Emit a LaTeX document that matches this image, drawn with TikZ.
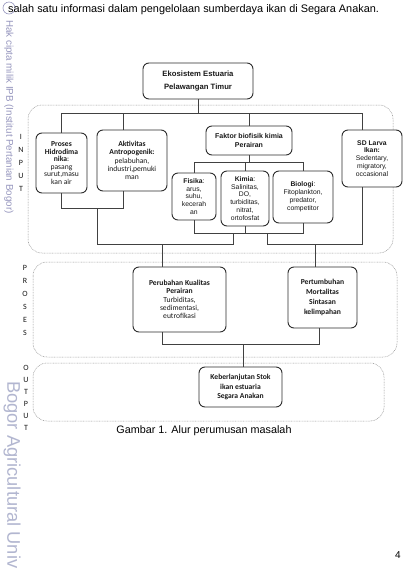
\documentclass[tikz,border=0pt]{standalone}
\usepackage{fontspec}
\setmainfont{Liberation Sans}
\newfontfamily\calib{Carlito}
\usetikzlibrary{calc}
\definecolor{wmA}{RGB}{150,150,190}
\definecolor{wmB}{RGB}{178,182,208}
\definecolor{edge}{RGB}{45,45,45}
\definecolor{wire}{RGB}{65,65,65}
\definecolor{framec}{RGB}{150,150,150}

\begin{document}
\begin{tikzpicture}[x=1pt,y=-1pt,
  box/.style={draw=edge,fill=white,line width=0.9pt,rounded corners=6pt,inner sep=0pt,align=center,text=black!90},
  cbox/.style={box,font=\calib\fontsize{7.6}{7.6}\selectfont},
  abox/.style={box,font=\fontsize{6.8}{7.9}\selectfont},
  conn/.style={draw=wire,line width=0.8pt},
  stage/.style={draw=framec,line width=0.5pt,dash pattern=on 0.8pt off 0.8pt,rounded corners=14pt},
  sidelbl/.style={font=\calib\fontsize{8}{9}\selectfont,inner sep=0pt,text=black!90}
]
\useasboundingbox (0,0) rectangle (404,574);
\fill[white] (0,0) rectangle (404,574);

% page watermarks
\begin{scope}
  \clip (0,0) rectangle (404,574);
  \node[text=wmA, rotate=-90, anchor=west, inner sep=0pt, font=\fontsize{9.8}{10}\selectfont] (wmtop) at (9,20) {Hak cipta milik IPB (Institut Pertanian Bogor)};
  \node[text=wmB, rotate=-90, anchor=west, inner sep=0pt, font=\fontsize{18.3}{19}\selectfont] (wmbot) at (12,381) {Bogor Agricultural Univ};
  \draw[wmA, line width=0.6pt] (9,8) circle (6);
\end{scope}

% running text and caption
\node[anchor=base west, inner sep=0pt, font=\fontsize{10.9}{13}\selectfont] (intro) at (8,12) {salah satu informasi dalam pengelolaan sumberdaya ikan di Segara Anakan.};
\node[anchor=base, inner sep=0pt, font=\fontsize{10.8}{13}\selectfont] (caption) at (204,433) {Gambar 1. Alur perumusan masalah};
\node[anchor=base, inner sep=0pt, font=\fontsize{10}{12}\selectfont] (pagenum) at (398,558) {4};

% stage frames
\draw[stage] (28,105) rectangle (393,253);
\draw[stage] (33,262) rectangle (397,357);
\draw[stage] (33,363) rectangle (384,421);

% stage labels
\foreach \c [count=\i] in {I,N,P,U,T} \node[sidelbl] (in\i) at (21,124+13*\i) {\c};
\foreach \c [count=\i] in {P,R,O,S,E,S} \node[sidelbl] (pr\i) at (25,255+13*\i) {\c};
\foreach \c [count=\i] in {O,U,T,P,U,T} \node[sidelbl] (out\i) at (26,356+12*\i) {\c};

% boxes
\node[abox, minimum width=110, minimum height=36, font=\bfseries\fontsize{7.7}{13}\selectfont] (eko) at (198,81) {Ekosistem Estuaria\\Pelawangan Timur};

\node[cbox, minimum width=51, minimum height=60] (proses) at (61.5,163) {\textbf{Proses}\\\textbf{Hidrodima}\\\textbf{nika}:\\pasang\\surut,masu\\kan air};
\node[cbox, minimum width=70, minimum height=61, font=\calib\fontsize{7.6}{8.2}\selectfont] (aktiv) at (132,160.5) {\textbf{Aktivitas}\\\textbf{Antropogenik:}\\pelabuhan,\\industri,pemuki\\man};
\node[abox, minimum width=86, minimum height=29, font=\bfseries\fontsize{7}{8.2}\selectfont] (faktor) at (249,140.5) {Faktor biofisik kimia\\Perairan};
\node[abox, minimum width=60, minimum height=57] (larva) at (372,158.5) {\textbf{SD Larva}\\\textbf{Ikan:}\\Sedentary,\\migratory,\\occasional};

\node[abox, minimum width=44, minimum height=47] (fisika) at (194,196.5) {\textbf{Fisika}:\\arus,\\suhu,\\kecerah\\an};
\node[abox, minimum width=48, minimum height=55] (kimia) at (245,198.5) {\textbf{Kimia}:\\Salinitas,\\DO,\\turbiditas,\\nitrat,\\ortofosfat};
\node[abox, minimum width=60, minimum height=52] (biologi) at (303,197) {\textbf{Biologi}:\\Fitoplankton,\\predator,\\competitor};

\node[cbox, minimum width=93, minimum height=65, font=\calib\fontsize{7.6}{8.2}\selectfont] (perub) at (179.5,299.5) {\textbf{Perubahan Kualitas}\\\textbf{Perairan}\\Turbiditas,\\sedimentasi,\\eutrofikasi};
\node[cbox, minimum width=69, minimum height=61, font=\calib\bfseries\fontsize{7.6}{10.2}\selectfont] (pertum) at (322.5,297.5) {Pertumbuhan\\Mortalitas\\Sintasan\\kelimpahan};
\node[cbox, minimum width=83, minimum height=40, font=\calib\bfseries\fontsize{7.6}{9.6}\selectfont] (keber) at (240.5,387) {Keberlanjutan Stok\\ikan estuaria\\Segara Anakan};

% attachment points and bus levels
\coordinate (aktivTop) at ($(aktiv.north)+(-9,0)$);
\coordinate (aktivBot) at ($(aktiv.south)+(-9,0)$);
\coordinate (larvaTop) at ($(larva.north)+(-10,0)$);
\coordinate (larvaBot) at ($(larva.south)+(-10,0)$);
\coordinate (perubIn) at ($(perub.north)+(-17.5,0)$);
\coordinate (perubOut) at ($(perub.south)+(-17.5,0)$);
\coordinate (pertumIn) at ($(pertum.north)+(-7.5,0)$);
\coordinate (pertumOut) at ($(pertum.south)+(-3.5,0)$);
\coordinate (keberIn) at ($(keber.north)+(2.5,0)$);
\coordinate (busTop) at (0,113);
\coordinate (busFak) at (0,162);
\coordinate (busPA) at (0,208);
\coordinate (busSub) at (0,233);
\coordinate (busMid) at (0,244);
\coordinate (busOut) at (0,344);
\coordinate (jPA) at (97,208);
\coordinate (jSubL) at (233,233);
\coordinate (jSubR) at (267,233);

% connectors
\draw[conn] (eko.south) -- (eko.south |- busTop);
\draw[conn] (proses.north) |- (larvaTop |- busTop) -- (larvaTop);
\draw[conn] (aktivTop |- busTop) -- (aktivTop);
\draw[conn] (faktor.north |- busTop) -- (faktor.north);
\draw[conn] (faktor.south) -- (faktor.south |- busFak);
\draw[conn] (fisika.north) |- (biologi.north |- busFak) -- (biologi.north);
\draw[conn] (kimia.north |- busFak) -- (kimia.north);
\draw[conn] (proses.south) |- (aktivBot |- busPA) -- (aktivBot);
\draw[conn] (fisika.south) |- (biologi.south |- busSub) -- (biologi.south);
\draw[conn] (kimia.south) -- (kimia.south |- busSub);
\draw[conn] (jPA) |- (jSubL |- busMid) -- (jSubL);
\draw[conn] (jSubR) |- (larvaBot |- busMid) -- (larvaBot);
\draw[conn] (perubIn |- busMid) -- (perubIn);
\draw[conn] (pertumIn |- busMid) -- (pertumIn);
\draw[conn] (perubOut) |- (pertumOut |- busOut) -- (pertumOut);
\draw[conn] (keberIn |- busOut) -- (keberIn);
\end{tikzpicture}
\end{document}
